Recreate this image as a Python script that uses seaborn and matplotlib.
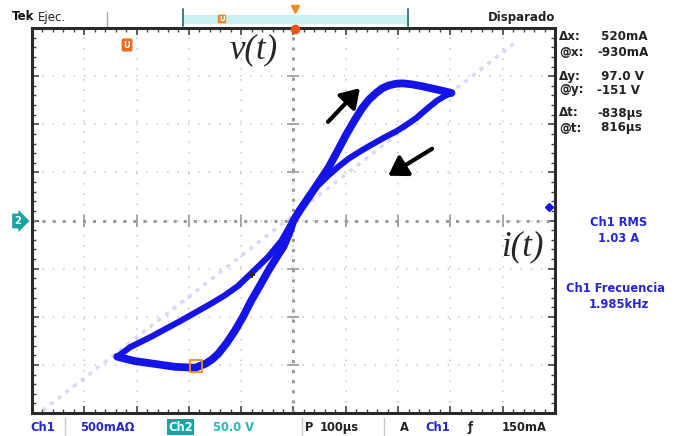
import matplotlib
matplotlib.use('Agg')
import matplotlib.pyplot as plt
from matplotlib.patches import Rectangle
from matplotlib.lines import Line2D
import seaborn as sns
import pandas as pd
import numpy as np

# Lazo i-v leído de la pantalla (Ch1 = corriente 500 mA/div, Ch2 = tensión 50 V/div)
# rama de subida: desde la punta inferior izquierda, por abajo, subida empinada y arriba
sube_i = [-1.685, -1.52, -1.325, -1.135, -0.94, -0.845, -0.78, -0.72, -0.64, -0.56, -0.48,
          -0.405, -0.32, -0.24, -0.16, -0.095, -0.04, 0.0, 0.07, 0.145, 0.24, 0.335, 0.42,
          0.5, 0.58, 0.655, 0.72, 0.79, 0.85, 0.915, 0.975, 1.04, 1.13, 1.23, 1.31, 1.395, 1.51]
sube_v = [-141.5, -146, -149, -152, -153, -149, -144.5, -138.5, -127.5, -114.5, -99.5,
          -83.5, -67.5, -52, -38, -27, -13, 0, 12, 24, 39.5, 55, 72,
          88.5, 103.5, 116.5, 125.5, 132.5, 137.5, 140.5, 142, 142.5, 141.5, 139.5, 137.5, 135.5, 132.5]
# rama de bajada: desde la punta superior derecha hasta la punta inferior izquierda
baja_i = [1.51, 1.44, 1.365, 1.27, 1.175, 1.075, 0.98, 0.865, 0.75, 0.64, 0.53, 0.43, 0.335,
          0.175, 0.05, -0.115, -0.24, -0.405, -0.53, -0.66, -0.79, -1.075, -1.365, -1.56, -1.685]
baja_v = [132.5, 129, 124, 115.5, 106.5, 99, 92.5, 86, 79, 72, 64.5, 56, 47,
          30, 10.5, -21, -37.5, -55, -68, -78, -86.5, -104, -121, -131.5, -141.5]
# traza tenue en diagonal
diag_i = [-2.4, 2.12]
diag_v = [-197.5, 185]
# cursor
cursor_i = [-0.93]
cursor_v = [-151]

cursores = [("Δx:", " 520mA", 37), ("@x:", "-930mA", 52), ("Δy:", " 97.0 V", 76),
            ("@y:", "-151 V", 90), ("Δt:", "-838µs", 113), ("@t:", " 816µs", 128)]

AZUL = '#1414e8'
AZUL_TXT = '#2626d0'
TEAL = '#1aa3a3'
NARANJA = '#f08a24'

sns.set_theme(style='white')
plt.rcParams['font.family'] = ['DejaVu Sans']

W, H = 697, 436
fig = plt.figure(figsize=(W / 100, H / 100), dpi=100)
fig.patch.set_facecolor('white')


def fx(x):
    return x / W


def fy(y):
    return 1 - y / H


ax = fig.add_axes([fx(32), fy(413), 523 / W, 385 / H])
ax.set_facecolor('white')
ax.set_xlim(-2.5, 2.5)
ax.set_ylim(-200, 200)
ax.set_xticks(np.arange(-2.5, 2.51, 0.5))
ax.set_yticks(np.arange(-200, 201, 50))
ax.set_xticks(np.arange(-2.5, 2.51, 0.1), minor=True)
ax.set_yticks(np.arange(-200, 201, 10), minor=True)
ax.grid(True, which='major', color='#c6c6c6', lw=1.1, ls=(0, (1, 5.8)))
ax.tick_params(which='both', direction='in', top=True, right=True, bottom=True, left=True,
               labelbottom=False, labelleft=False, color='#444444')
ax.tick_params(which='major', length=5, width=1.2)
ax.tick_params(which='minor', length=3, width=1)
for s in ax.spines.values():
    s.set_color('#2a2a2a')
    s.set_linewidth(2.2)

# ejes centrales con marcas
ax.axhline(0, color='#9a9a9a', lw=2.2, ls=(0, (1, 2.3)), zorder=1)
ax.axvline(0, color='#9a9a9a', lw=2.2, ls=(0, (1, 2.3)), zorder=1)
ax.plot(np.arange(-2.5, 2.51, 0.5), np.zeros(11), ls='none', marker='|', ms=9,
        mew=1.2, color='#9a9a9a', zorder=1)
ax.plot(np.zeros(9), np.arange(-200, 201, 50), ls='none', marker='_', ms=9,
        mew=1.2, color='#9a9a9a', zorder=1)

sns.lineplot(x=diag_i, y=diag_v, sort=False, estimator=None, color='#9a9af0',
             lw=2.5, alpha=0.38, ls=(0, (1.2, 1.6)), ax=ax)
sns.lineplot(data=pd.DataFrame({'i': baja_i, 'v': baja_v}), x='i', y='v', sort=False,
             estimator=None, color=AZUL, lw=4.4, ax=ax,
             solid_capstyle='round', solid_joinstyle='round')
sns.lineplot(data=pd.DataFrame({'i': sube_i, 'v': sube_v}), x='i', y='v', sort=False,
             estimator=None, color=AZUL, lw=5.6, ax=ax,
             solid_capstyle='round', solid_joinstyle='round')
ax.set_xlabel('')
ax.set_ylabel('')

ax.scatter(cursor_i, cursor_v, marker='s', s=70, facecolor='none',
           edgecolor=NARANJA, linewidth=1.3, zorder=5)
ax.scatter([-0.40], [-56.5], marker='+', s=25, color='#332200', linewidth=1.3, zorder=5)

flecha = dict(arrowstyle='-|>,head_length=0.55,head_width=0.35', lw=3,
              color='black', mutation_scale=20, shrinkA=0, shrinkB=0)
ax.annotate('', xy=(0.635, 137.5), xytext=(0.33, 102.5), arrowprops=flecha)
ax.annotate('', xy=(0.905, 46.5), xytext=(1.325, 74.5), arrowprops=flecha)

serif = dict(family='Liberation Serif', style='italic', size=25, ha='center', va='center')
fig.text(fx(254), fy(50), 'v(t)', **serif)
fig.text(fx(522), fy(247), 'i(t)', **serif)

# barra superior
fig.text(fx(12), fy(17), 'Tek', weight='bold', size=8.5, va='center', color='#111111')
fig.text(fx(38), fy(17), 'Ejec.', size=8.5, va='center', color='#222222')
fig.text(fx(488), fy(17), 'Disparado', weight='bold', size=8.5, va='center', color='#222222')
fig.add_artist(Rectangle((fx(183), fy(24)), 225 / W, 9 / H, transform=fig.transFigure,
                         fc='#c9f1f1', ec='none'))
for xb in (183, 408):
    fig.add_artist(Line2D([fx(xb), fx(xb)], [fy(9), fy(26)], transform=fig.transFigure,
                          color='#3c7f7f', lw=1.4))
fig.add_artist(Line2D([fx(107), fx(107)], [fy(12), fy(26)], transform=fig.transFigure,
                      color='#aaaaaa', lw=1))
fig.add_artist(Line2D([fx(295)], [fy(9)], transform=fig.transFigure, marker='v',
                      color=NARANJA, ms=6))
fig.add_artist(Line2D([fx(295)], [fy(29)], transform=fig.transFigure, marker='o',
                      color='#e8561c', ms=6))
fig.text(fx(222), fy(19), 'U', color='white', size=5, weight='bold', ha='center', va='center',
         bbox=dict(boxstyle='round,pad=0.2', fc=NARANJA, ec='none'))
fig.text(fx(127), fy(45), 'U', color='white', size=6, weight='bold', ha='center', va='center',
         bbox=dict(boxstyle='round,pad=0.25', fc='#ee6a18', ec='none'))

# marcador del canal 2
fig.text(fx(18), fy(221), '2', color='white', weight='bold', size=7, ha='center', va='center',
         bbox=dict(boxstyle='rarrow,pad=0.25', fc=TEAL, ec='none'))
fig.add_artist(Line2D([fx(549)], [fy(207)], transform=fig.transFigure, marker='D',
                      color=AZUL, ms=4))

# panel derecho
for etiqueta, valor, yy in cursores:
    fig.text(fx(559), fy(yy), etiqueta, weight='bold', size=8.6, va='center', color='#222222')
    fig.text(fx(597), fy(yy), valor, weight='bold', size=8.6, va='center', color='#222222')
txt_azul = dict(weight='bold', size=8.3, ha='center', va='center', color=AZUL_TXT)
fig.text(fx(619), fy(222), 'Ch1 RMS', **txt_azul)
fig.text(fx(619), fy(238), '1.03 A', **txt_azul)
fig.text(fx(615), fy(289), 'Ch1 Frecuencia', **txt_azul)
fig.text(fx(619), fy(305), '1.985kHz', **txt_azul)

# barra inferior
yb = fy(427)
base = dict(weight='bold', size=8.3, va='center')
fig.text(fx(30), yb, 'Ch1', color=AZUL_TXT, **base)
fig.text(fx(80), yb, '500mAΩ', color=AZUL_TXT, **base)
fig.text(fx(168), yb, 'Ch2', color='#e8ffff', bbox=dict(boxstyle='square,pad=0.12', fc=TEAL, ec='none'), **base)
fig.text(fx(213), yb, '50.0 V', color='#2bb5b5', **base)
fig.text(fx(305), yb, 'P', color='#222222', **base)
fig.text(fx(320), yb, '100µs', color='#222222', **base)
fig.text(fx(400), yb, 'A', color='#222222', **base)
fig.text(fx(425), yb, 'Ch1', color=AZUL_TXT, **base)
fig.text(fx(468), yb, 'ƒ', color='#222222', **base)
fig.text(fx(502), yb, '150mA', color='#222222', **base)
for xs in (65, 302, 384):
    fig.add_artist(Line2D([fx(xs), fx(xs)], [fy(418), fy(436)], transform=fig.transFigure,
                          color='#c8c8c8', lw=1))

fig.savefig('out.png', dpi=100)
